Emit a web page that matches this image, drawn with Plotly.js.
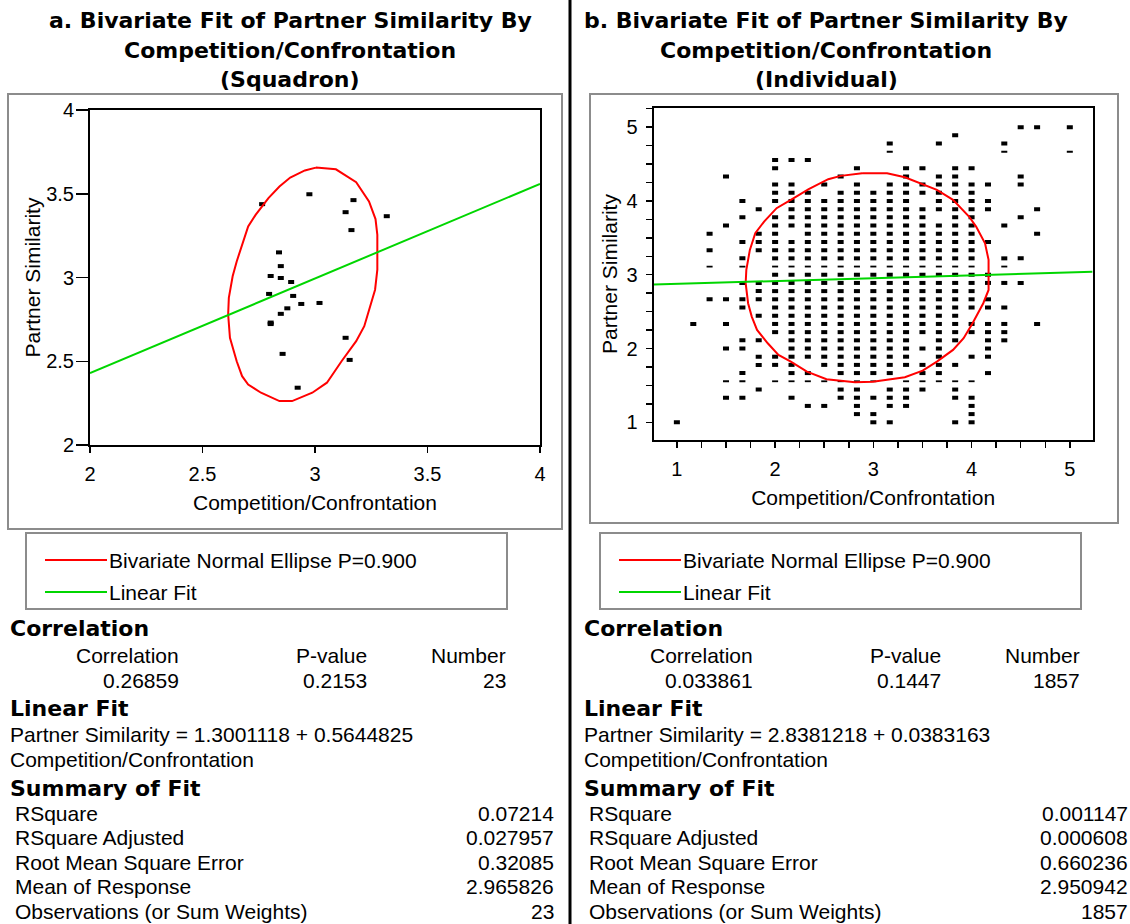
<!DOCTYPE html>
<html>
<head>
<meta charset="utf-8">
<script src="https://cdn.plot.ly/plotly-3.0.1.min.js"></script>
<style>html,body{margin:0;padding:0;background:#fff;}#chart{width:1130px;height:924px;}</style>
</head>
<body>
<div id="chart"></div>
<script>
// ---------- Panel a data (Squadron, n = 23) ----------
const aX = [2.765, 2.975, 3.171, 3.136, 3.319, 3.162, 2.840, 2.848, 2.803, 2.848, 2.894, 2.796, 2.903, 2.939, 3.020, 2.877, 2.848, 2.803, 2.803, 3.136, 2.856, 3.154, 2.923];
const aY = [3.438, 3.497, 3.462, 3.390, 3.366, 3.283, 3.150, 3.068, 3.009, 2.997, 2.973, 2.902, 2.890, 2.842, 2.848, 2.816, 2.783, 2.731, 2.722, 2.640, 2.544, 2.508, 2.342];
const ellAX = [3.004,3.093,3.183,3.240,3.269,3.277,3.277,3.267,3.219,3.183,3.118,3.053,2.988,2.898,2.842,2.760,2.703,2.676,2.652,2.622,2.614,2.617,2.634,2.652,2.703,2.736,2.793,2.842,2.890,2.955,3.004];
const ellAY = [3.656,3.646,3.569,3.454,3.349,3.255,3.047,2.927,2.709,2.620,2.500,2.372,2.312,2.262,2.262,2.312,2.361,2.411,2.500,2.640,2.779,2.878,3.007,3.096,3.305,3.374,3.474,3.543,3.597,3.639,3.656];
const fitAX = [2, 4];
const fitAY = [2.429, 3.559];

// ---------- Panel b data (Individual, n = 1857; visible distinct marks) ----------
const bColumnsX = [1.0, 1.167, 1.333, 1.5, 1.667, 1.833, 2.0, 2.167, 2.333, 2.5, 2.667, 2.833, 3.0, 3.167, 3.333, 3.5, 3.667, 3.833, 4.0, 4.167, 4.333, 4.5, 4.667, 5.0];
const bColumnsY = [
  [1.0],
  [2.333],
  [3.556, 3.333, 3.111, 2.667],
  [4.333, 3.667, 2.667, 2.333, 2.0, 1.556, 1.333],
  [4.0, 3.778, 3.444, 3.222, 3.111, 2.889, 2.667, 2.556, 2.111, 2.0, 1.667, 1.556, 1.333],
  [3.889, 3.556, 3.444, 3.333, 2.889, 2.778, 2.667, 2.444, 2.111, 1.889, 1.778, 1.444],
  [4.556, 4.444, 4.222, 4.111, 4.0, 3.778, 3.667, 3.556, 3.444, 3.333, 3.222, 3.111, 3.0, 2.889, 2.778, 2.667, 2.556, 2.444, 2.333, 2.222, 1.889, 1.778, 1.556],
  [4.556, 4.222, 4.111, 4.0, 3.889, 3.778, 3.667, 3.444, 3.333, 3.222, 3.111, 3.0, 2.889, 2.778, 2.667, 2.556, 2.444, 2.333, 2.222, 2.111, 2.0, 1.889, 1.778, 1.667, 1.556, 1.333],
  [4.556, 4.111, 4.0, 3.889, 3.778, 3.667, 3.556, 3.444, 3.333, 3.222, 3.111, 3.0, 2.889, 2.778, 2.667, 2.556, 2.444, 2.333, 2.222, 2.111, 2.0, 1.889, 1.667, 1.556, 1.222],
  [4.222, 4.0, 3.889, 3.778, 3.667, 3.556, 3.444, 3.333, 3.222, 3.111, 3.0, 2.889, 2.778, 2.667, 2.556, 2.444, 2.333, 2.222, 2.111, 2.0, 1.889, 1.778, 1.556, 1.222],
  [4.333, 4.111, 4.0, 3.889, 3.778, 3.667, 3.556, 3.444, 3.333, 3.222, 3.111, 3.0, 2.889, 2.778, 2.667, 2.556, 2.444, 2.333, 2.222, 2.111, 2.0, 1.889, 1.778, 1.667, 1.556, 1.444, 1.333],
  [4.444, 4.222, 4.111, 4.0, 3.889, 3.778, 3.667, 3.556, 3.444, 3.333, 3.222, 3.111, 3.0, 2.889, 2.778, 2.667, 2.556, 2.444, 2.333, 2.222, 2.111, 2.0, 1.889, 1.778, 1.667, 1.556, 1.444, 1.333, 1.222, 1.111],
  [4.111, 4.0, 3.889, 3.778, 3.667, 3.556, 3.444, 3.333, 3.222, 3.111, 3.0, 2.889, 2.778, 2.667, 2.556, 2.444, 2.333, 2.222, 2.111, 2.0, 1.889, 1.778, 1.667, 1.556, 1.333, 1.111, 1.0],
  [4.778, 4.667, 4.222, 4.111, 4.0, 3.889, 3.778, 3.667, 3.556, 3.444, 3.333, 3.222, 3.111, 3.0, 2.889, 2.778, 2.667, 2.556, 2.444, 2.333, 2.222, 2.111, 2.0, 1.889, 1.778, 1.667, 1.444, 1.333, 1.222, 1.0],
  [4.444, 4.333, 4.222, 4.111, 4.0, 3.889, 3.778, 3.667, 3.556, 3.444, 3.333, 3.222, 3.111, 3.0, 2.889, 2.778, 2.667, 2.556, 2.444, 2.333, 2.222, 2.111, 2.0, 1.889, 1.778, 1.556, 1.444, 1.333, 1.222],
  [4.444, 4.222, 4.111, 3.889, 3.778, 3.667, 3.556, 3.444, 3.333, 3.222, 3.111, 3.0, 2.889, 2.778, 2.667, 2.556, 2.444, 2.333, 2.222, 2.0, 1.778, 1.667, 1.556, 1.444],
  [4.778, 4.333, 4.222, 4.111, 4.0, 3.889, 3.667, 3.556, 3.444, 3.333, 3.222, 3.111, 3.0, 2.889, 2.778, 2.667, 2.556, 2.444, 2.333, 2.222, 2.111, 2.0, 1.889, 1.778, 1.667, 1.556],
  [4.889, 4.444, 4.333, 4.222, 4.111, 4.0, 3.889, 3.778, 3.667, 3.556, 3.444, 3.333, 3.222, 3.111, 3.0, 2.889, 2.778, 2.667, 2.556, 2.444, 2.333, 2.222, 2.111, 1.778, 1.556, 1.444, 1.333, 1.0],
  [4.444, 4.222, 4.111, 4.0, 3.889, 3.778, 3.667, 3.556, 3.444, 3.333, 3.222, 3.111, 3.0, 2.889, 2.778, 2.667, 2.556, 2.333, 2.222, 1.889, 1.556, 1.333, 1.222, 1.111, 1.0],
  [4.222, 4.0, 3.889, 3.444, 3.0, 2.889, 2.667, 2.556, 2.333, 2.222, 2.111, 2.0, 1.889, 1.667],
  [4.778, 4.667, 3.667, 3.222, 3.111, 2.889, 2.556, 2.333, 2.222, 2.111],
  [5.0, 4.333, 4.222, 3.778, 3.222, 2.889],
  [5.0, 3.889, 3.556, 2.333],
  [5.0, 4.667]
];
// rows that the original renders as thin dashes
const bDashRows = [4.667, 3.111, 1.556];
const ellBX = [2.886,2.668,2.541,2.342,2.160,2.015,1.888,1.798,1.743,1.707,1.700,1.725,1.762,1.816,1.925,2.034,2.160,2.324,2.523,2.813,2.995,3.321,3.502,3.647,3.811,3.919,4.010,4.119,4.173,4.173,4.137,4.046,3.974,3.811,3.647,3.484,3.321,3.140,2.886];
const ellBY = [4.376,4.340,4.295,4.159,4.015,3.902,3.721,3.563,3.337,3.066,2.885,2.614,2.433,2.252,2.071,1.913,1.823,1.687,1.583,1.542,1.551,1.610,1.701,1.823,1.981,2.139,2.342,2.614,2.794,3.201,3.427,3.653,3.789,4.015,4.150,4.241,4.322,4.376,4.376];
const fitBX = [0.764, 5.232];
const fitBY = [2.867, 3.039];

// ---------- Text content ----------
const titleA = ["a. Bivariate Fit of Partner Similarity By", "Competition/Confrontation", "(Squadron)"];
const titleB = ["b. Bivariate Fit of Partner Similarity By", "Competition/Confrontation", "(Individual)"];
const legendLabels = ["Bivariate Normal Ellipse P=0.900", "Linear Fit"];
const corrHeaders = ["Correlation", "P-value", "Number"];
const corrA = ["0.26859", "0.2153", "23"];
const corrB = ["0.033861", "0.1447", "1857"];
const fitEqA = ["Partner Similarity = 1.3001118 + 0.5644825", "Competition/Confrontation"];
const fitEqB = ["Partner Similarity = 2.8381218 + 0.0383163", "Competition/Confrontation"];
const summaryLabels = ["RSquare", "RSquare Adjusted", "Root Mean Square Error", "Mean of Response", "Observations (or Sum Weights)"];
const summaryA = ["0.07214", "0.027957", "0.32085", "2.965826", "23"];
const summaryB = ["0.001147", "0.000608", "0.660236", "2.950942", "1857"];

// ---------- Build ----------
const W = 1130, H = 924;
const px = x => x / W;
const py = y => 1 - y / H;
const RED = 'rgb(255,0,0)', GREEN = 'rgb(0,214,0)';
const REG = {family: 'Liberation Sans, Arial, sans-serif', size: 21, color: '#000'};
const BOLD = {family: 'DejaVu Sans, sans-serif', size: 22, color: '#000', weight: 'bold'};
const TICKF = {family: 'Liberation Sans, Arial, sans-serif', size: 20, color: '#000'};

const bxReg = [], byReg = [], bxDash = [], byDash = [];
bColumnsX.forEach((x, i) => {
  bColumnsY[i].forEach(y => {
    if (bDashRows.includes(y)) { bxDash.push(x); byDash.push(y); }
    else { bxReg.push(x); byReg.push(y); }
  });
});

const markerReg = {symbol: 'line-ew', size: 4.3, color: '#000', line: {color: '#000', width: 4}};
const markerDash = {symbol: 'line-ew', size: 4.3, color: '#000', line: {color: '#000', width: 1.8}};

const traces = [
  {x: aX, y: aY, xaxis: 'x', yaxis: 'y', type: 'scatter', mode: 'markers', marker: markerReg},
  {x: ellAX, y: ellAY, xaxis: 'x', yaxis: 'y', type: 'scatter', mode: 'lines', line: {color: RED, width: 2}},
  {x: fitAX, y: fitAY, xaxis: 'x', yaxis: 'y', type: 'scatter', mode: 'lines', line: {color: GREEN, width: 2}},
  {x: bxReg, y: byReg, xaxis: 'x2', yaxis: 'y2', type: 'scatter', mode: 'markers', marker: markerReg},
  {x: bxDash, y: byDash, xaxis: 'x2', yaxis: 'y2', type: 'scatter', mode: 'markers', marker: markerDash},
  {x: ellBX, y: ellBY, xaxis: 'x2', yaxis: 'y2', type: 'scatter', mode: 'lines', line: {color: RED, width: 2}},
  {x: fitBX, y: fitBY, xaxis: 'x2', yaxis: 'y2', type: 'scatter', mode: 'lines', line: {color: GREEN, width: 2}}
];

const axBase = {
  showline: true, linecolor: '#000', linewidth: 2, mirror: true,
  showgrid: false, zeroline: false, ticks: 'outside', tickcolor: '#000', tickwidth: 1.5,
  tickfont: TICKF, fixedrange: true
};

const annotations = [];
function txt(text, x, y, anchor, font) {
  annotations.push({text: text, x: px(x), y: py(y), xref: 'paper', yref: 'paper',
    xanchor: anchor, yanchor: 'middle', showarrow: false, font: font});
}
// titles
[titleA, titleB].forEach((t, k) => {
  const cx = k === 0 ? 290 : 826;
  t.forEach((line, j) => txt(line, cx, 20 + 30 * j, 'center', BOLD));
});
// legend + stats blocks
const shapes = [];
[[corrA, fitEqA, summaryA], [corrB, fitEqB, summaryB]].forEach((blk, k) => {
  const o = k * 574;
  shapes.push({type: 'rect', xref: 'paper', yref: 'paper', x0: px(26 + o), x1: px(507 + o), y0: py(533), y1: py(609), line: {color: '#8c8c8c', width: 2}});
  shapes.push({type: 'line', xref: 'paper', yref: 'paper', x0: px(45 + o), x1: px(107 + o), y0: py(560), y1: py(560), line: {color: RED, width: 2}});
  shapes.push({type: 'line', xref: 'paper', yref: 'paper', x0: px(45 + o), x1: px(107 + o), y0: py(592), y1: py(592), line: {color: GREEN, width: 2}});
  txt(legendLabels[0], 107 + o, 560, 'left', REG);
  txt(legendLabels[1], 107 + o, 592, 'left', REG);
  txt('Correlation', 8 + o, 628, 'left', BOLD);
  const rights = [181, 369, 508];
  corrHeaders.forEach((h, i) => txt(h, rights[i] + o, 655, 'right', REG));
  blk[0].forEach((v, i) => txt(v, rights[i] + o, 680, 'right', REG));
  txt('Linear Fit', 8 + o, 708, 'left', BOLD);
  txt(blk[1][0], 8 + o, 734, 'left', REG);
  txt(blk[1][1], 8 + o, 759, 'left', REG);
  txt('Summary of Fit', 8 + o, 788, 'left', BOLD);
  summaryLabels.forEach((l, i) => {
    const y = 813 + 24.6 * i;
    txt(l, 13 + o, y, 'left', REG);
    txt(blk[2][i], 556 + o, y, 'right', REG);
  });
});
// frames and divider
shapes.push({type: 'rect', xref: 'paper', yref: 'paper', x0: px(8), x1: px(562), y0: py(94), y1: py(529), line: {color: '#8c8c8c', width: 2}});
shapes.push({type: 'rect', xref: 'paper', yref: 'paper', x0: px(590), x1: px(1118), y0: py(94), y1: py(523), line: {color: '#8c8c8c', width: 2}});
shapes.push({type: 'line', xref: 'paper', yref: 'paper', x0: px(570), x1: px(570), y0: 0, y1: 1, line: {color: '#000', width: 3}});

const layout = {
  width: W, height: H, margin: {l: 0, r: 0, t: 0, b: 0},
  paper_bgcolor: '#fff', plot_bgcolor: '#fff', showlegend: false,
  xaxis: Object.assign({}, axBase, {domain: [px(90), px(540)], range: [2, 4], tickvals: [2, 2.5, 3, 3.5, 4], ticklen: 6,
    ticklabelstandoff: 4,
    title: {text: 'Competition/Confrontation', font: REG, standoff: 11}, anchor: 'y'}),
  yaxis: Object.assign({}, axBase, {domain: [py(445), py(110)], range: [2, 4], tickvals: [2, 2.5, 3, 3.5, 4], ticklen: 12,
    ticklabelstandoff: -2,
    title: {text: 'Partner Similarity', font: REG, standoff: 0}, anchor: 'x'}),
  xaxis2: Object.assign({}, axBase, {domain: [px(653.7), px(1092.6)], range: [0.764, 5.232], tick0: 0, dtick: 1, ticklen: 6,
    ticklabelstandoff: 4,
    minor: {tick0: 0, dtick: 0.25, ticks: 'outside', ticklen: 6, tickcolor: '#000', tickwidth: 1.5, showgrid: false},
    title: {text: 'Competition/Confrontation', font: REG, standoff: 11}, anchor: 'y2'}),
  yaxis2: Object.assign({}, axBase, {domain: [py(440), py(108)], range: [0.76, 5.26], tick0: 0, dtick: 1, ticklen: 6,
    ticklabelstandoff: 4,
    minor: {tick0: 0, dtick: 0.25, ticks: 'outside', ticklen: 6, tickcolor: '#000', tickwidth: 1.5, showgrid: false},
    title: {text: 'Partner Similarity', font: REG, standoff: 3}, anchor: 'x2'}),
  shapes: shapes,
  annotations: annotations
};

Plotly.newPlot('chart', traces, layout, {displayModeBar: false, staticPlot: true});
</script>
</body>
</html>
